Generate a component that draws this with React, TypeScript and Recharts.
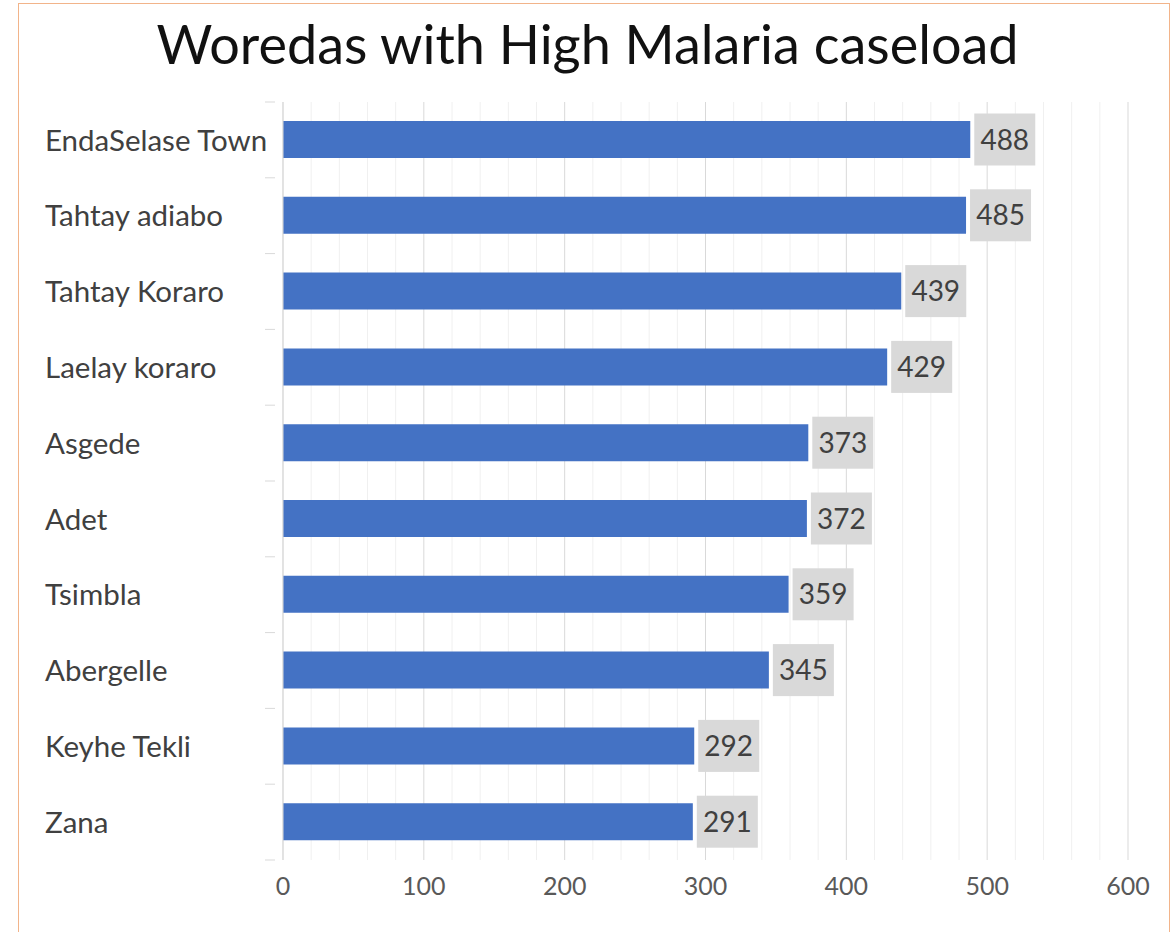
import React from 'react';
import {
  BarChart,
  Bar,
  XAxis,
  YAxis,
  CartesianGrid,
  LabelList,
} from 'recharts';

const woredas = [
  'EndaSelase Town',
  'Tahtay adiabo',
  'Tahtay Koraro',
  'Laelay koraro',
  'Asgede',
  'Adet',
  'Tsimbla',
  'Abergelle',
  'Keyhe Tekli',
  'Zana',
];
const caseload = [488, 485, 439, 429, 373, 372, 359, 345, 292, 291];
const majorTicks = [0, 100, 200, 300, 400, 500, 600];
const minorTicks = [
  20, 40, 60, 80, 120, 140, 160, 180, 220, 240, 260, 280,
  320, 340, 360, 380, 420, 440, 460, 480, 520, 540, 560, 580,
];

const rows = woredas.map((name, i) => ({ name, cases: caseload[i] }));

const FONT = 'Lato, "Open Sans", sans-serif';

// place minor gridlines through the x axis scale (falls back to the plot offset)
const minorGrid = ({ xAxis, offset }: any) =>
  minorTicks.map((v) =>
    typeof xAxis?.scale === 'function'
      ? xAxis.scale(v)
      : offset.left + (v / 600) * offset.width,
  );

const WoredaTick = (props: any) => {
  const { x, y, payload, index } = props;
  const half = payload?.offset || 37.9;
  return (
    <g>
      <text x={45} y={y} dy="0.36em" textAnchor="start" fontSize={29.5} fontFamily={FONT} fill="#404040">
        {payload.value}
      </text>
      <line x1={x - 10} x2={x} y1={y - half} y2={y - half} stroke="#d9d9d9" />
      {index === woredas.length - 1 && (
        <line x1={x - 10} x2={x} y1={y + half} y2={y + half} stroke="#d9d9d9" />
      )}
    </g>
  );
};

const ValueTick = (props: any) => {
  const { x, y, payload } = props;
  return (
    <text x={x} y={y} dy="0.36em" textAnchor="middle" fontSize={25} fontFamily={FONT} fill="#595959">
      {payload.value}
    </text>
  );
};

const ValueLabel = (props: any) => {
  const { x, y, width, height, value } = props;
  const bx = x + width + 4;
  const cy = y + height / 2;
  return (
    <g>
      <rect x={bx} y={cy - 26} width={61} height={52} fill="#d9d9d9" />
      <text x={bx + 30.5} y={cy} dy="0.36em" textAnchor="middle" fontSize={28} fontFamily={FONT} fill="#404040">
        {value}
      </text>
    </g>
  );
};

export default function App() {
  return (
    <div style={{ position: 'absolute', left: 0, top: 0, width: 1175, height: 932, background: '#fff', overflow: 'hidden' }}>
      <div
        style={{
          position: 'absolute',
          left: 18,
          top: 3,
          width: 1152,
          height: 960,
          boxSizing: 'border-box',
          border: '1.5px solid #f2b48a',
        }}
      />
      <div
        style={{
          position: 'absolute',
          left: 0,
          top: 6,
          width: 1175,
          textAlign: 'center',
          fontFamily: FONT,
          fontSize: 54,
          color: '#111',
          lineHeight: '76px',
        }}
      >
        Woredas with High Malaria caseload
      </div>
      <div style={{ position: 'absolute', left: 0, top: 0 }}>
        <BarChart
          width={1175}
          height={932}
          data={rows}
          layout="vertical"
          margin={{ top: 102, right: 47, bottom: 12, left: 0 }}
        >
          <CartesianGrid horizontal={false} stroke="#f0f0f0" verticalCoordinatesGenerator={minorGrid} />
          <CartesianGrid horizontal={false} stroke="#d9d9d9" />
          <XAxis
            type="number"
            domain={[0, 600]}
            ticks={majorTicks}
            axisLine={false}
            tickLine={false}
            tick={<ValueTick />}
            height={60}
            tickMargin={20}
          />
          <YAxis
            type="category"
            dataKey="name"
            width={283}
            axisLine={{ stroke: '#d9d9d9' }}
            tickLine={false}
            tick={<WoredaTick />}
            interval={0}
          />
          <Bar dataKey="cases" fill="#4472c4" barSize={37} isAnimationActive={false}>
            <LabelList dataKey="cases" content={<ValueLabel />} />
          </Bar>
        </BarChart>
      </div>
    </div>
  );
}
